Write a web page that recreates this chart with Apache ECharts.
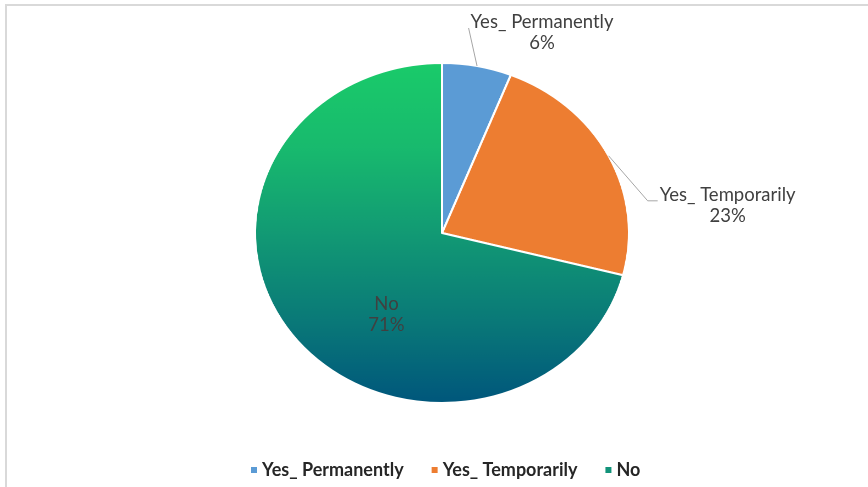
<!DOCTYPE html>
<html>
<head>
<meta charset="utf-8">
<script src="https://cdn.jsdelivr.net/npm/echarts@6/dist/echarts.min.js"></script>
<style>
  html, body { margin: 0; padding: 0; background: #fff; }
  #wrap { position: relative; width: 868px; height: 487px; overflow: hidden; background: #fff; }
  #frame { position: absolute; left: 5px; top: 4px; right: -4px; bottom: -4px;
           border-top: 2px solid #d9d9d9; border-left: 2px solid #d9d9d9; }
  /* the pie body is drawn on its own layer and widened into an ellipse */
  #pie { position: absolute; left: 0; top: 0; width: 868px; height: 487px;
         transform-origin: 442px 0; transform: scaleX(1.1); }
  #labels { position: absolute; left: 0; top: 0; width: 868px; height: 487px; }
</style>
</head>
<body>
<div id="wrap">
  <div id="frame"></div>
  <div id="pie"></div>
  <div id="labels"></div>
</div>
<script>
// ---- data ----
var categories = ['Yes_ Permanently', 'Yes_ Temporarily', 'No'];
var shares = [6, 23, 71];

// ---- geometry & style ----
var CX = 442, CY = 233, R = 170, STRETCH = 1.1;
var FONT = 'Lato, "Open Sans", sans-serif';

var noGradient = {
  type: 'linear', x: 0, y: 0, x2: 0, y2: 1,
  colorStops: [
    { offset: 0.00, color: '#1ACB6A' },
    { offset: 0.25, color: '#18BA6E' },
    { offset: 0.50, color: '#129A74' },
    { offset: 0.75, color: '#0A7A78' },
    { offset: 1.00, color: '#00567C' }
  ]
};
var sliceFill = ['#5B9BD5', '#ED7D31', noGradient];
var legendSwatch = ['#5B9BD5', '#ED7D31', '#12937A'];
var labelPlace = ['outside', 'outside', 'inside'];
// offset of each label block centre from its anchor, and the flat run of its leader line
var labelNudge = [
  { dx: 65, dy: -33, run: 0 },
  { dx: 119, dy: 50, run: 10 },
  { dx: 21, dy: 28, run: 0 }
];

function widen(pt) {
  return [CX + (pt[0] - CX) * STRETCH, pt[1]];
}

// ---- pie body ----
var pieChart = echarts.init(document.getElementById('pie'), null, { devicePixelRatio: 2 });
pieChart.setOption({
  animation: false,
  series: [{
    type: 'pie',
    center: [CX, CY],
    radius: R,
    startAngle: 90,
    clockwise: true,
    silent: true,
    label: { show: false },
    labelLine: { show: false },
    itemStyle: { borderColor: '#ffffff', borderWidth: 2 },
    data: categories.map(function (name, i) {
      return { name: name, value: shares[i], itemStyle: { color: sliceFill[i] } };
    })
  }]
});

// ---- labels, leader lines and legend ----
var labelChart = echarts.init(document.getElementById('labels'));
labelChart.setOption({
  animation: false,
  legend: {
    left: 246,
    top: 456,
    icon: 'rect',
    itemWidth: 6,
    itemHeight: 6,
    itemGap: 28,
    selectedMode: false,
    textStyle: { fontFamily: FONT, fontWeight: 'bold', fontSize: 18, color: '#262626' },
    data: categories.map(function (name, i) {
      return { name: name, itemStyle: { color: legendSwatch[i], opacity: 1 } };
    })
  },
  series: [{
    type: 'pie',
    center: [CX, CY],
    radius: R,
    startAngle: 90,
    clockwise: true,
    silent: true,
    avoidLabelOverlap: false,
    itemStyle: { color: 'rgba(0,0,0,0)', borderWidth: 0 },
    label: {
      show: true,
      formatter: '{b}\n{d}%',
      fontFamily: FONT,
      fontSize: 18.5,
      lineHeight: 21,
      color: '#404040',
      opacity: 1
    },
    labelLine: {
      show: true,
      length: 20,
      length2: 10,
      lineStyle: { color: '#a6a6a6', width: 1, opacity: 1 }
    },
    labelLayout: function (p) {
      var i = p.dataIndex;
      var n = labelNudge[i];
      var w = p.labelRect.width, h = p.labelRect.height;
      var anchor;
      if (labelPlace[i] === 'outside' && p.labelLinePoints) {
        anchor = widen(p.labelLinePoints[0]);
      } else {
        anchor = widen([p.labelRect.x + w / 2, p.labelRect.y + h / 2]);
      }
      var cx = anchor[0] + n.dx, cy = anchor[1] + n.dy;
      var out = { x: cx, y: cy, align: 'center', verticalAlign: 'middle' };
      if (labelPlace[i] === 'outside' && p.labelLinePoints) {
        var end = [cx - w / 2 - 2, cy - 5];
        var elbow = [end[0] - n.run, end[1]];
        out.labelLinePoints = [anchor, elbow, end];
      }
      return out;
    },
    data: categories.map(function (name, i) {
      return {
        name: name,
        value: shares[i],
        label: { position: labelPlace[i] },
        labelLine: { show: labelPlace[i] === 'outside' }
      };
    })
  }]
});
</script>
</body>
</html>
